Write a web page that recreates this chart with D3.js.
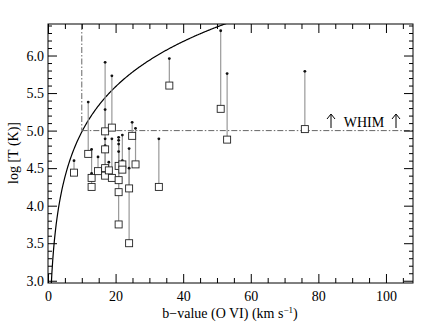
<!DOCTYPE html>
<html>
<head>
<meta charset="utf-8">
<script src="https://cdn.jsdelivr.net/npm/d3@7"></script>
<style>
  body { margin: 0; background: #fff; }
  svg text { font-family: "Liberation Serif", "Times New Roman", "DejaVu Serif", serif; }
</style>
</head>
<body>
<svg id="chart" width="436" height="331"></svg>
<script>
// b-value (km/s), measured log T (square) and upper log T (dot)
const bValues  = [7.7, 11.9, 12.9, 12.9, 14.8, 16.9, 16.9, 16.9, 16.9, 18.0, 18.9, 18.9, 20.9, 20.9, 20.9, 20.9, 22.0, 22.0, 24.9, 24.0, 24.0, 25.9, 32.8, 35.9, 51.1, 53.0, 76.0];
const logTLow  = [4.44, 4.69, 4.25, 4.37, 4.46, 4.99, 4.75, 4.50, 4.40, 4.47, 5.04, 4.37, 4.53, 4.34, 4.18, 3.75, 4.55, 4.48, 4.93, 4.23, 3.50, 4.55, 4.25, 5.60, 5.29, 4.88, 5.02];
const logTHigh = [4.60, 5.38, 4.75, 4.43, 4.65, 5.91, 5.28, 4.80, 4.89, 4.58, 5.73, 4.89, 4.91, 4.87, 4.82, 4.72, 4.94, 4.60, 5.11, 4.50, 4.76, 5.03, 4.89, 5.96, 6.33, 5.76, 5.79];

const xMajor = [0, 20, 40, 60, 80, 100];
const yMajor = [3.0, 3.5, 4.0, 4.5, 5.0, 5.5, 6.0];

const whimB = 10;      // b where thermal curve hits log T = 5
const whimLogT = 5.0;

const margin = { left: 48, top: 24, right: 23, bottom: 48 };
const width = 436, height = 331;
const serif = '"Liberation Serif", "Times New Roman", serif';
const fs = 14;

const svg = d3.select('#chart');

const x = d3.scaleLinear().domain([0, 108]).range([margin.left, width - margin.right]);
const y = d3.scaleLinear().domain([2.97, 6.42]).range([height - margin.bottom, margin.top]);

const xMinor = d3.range(0, 108, 5).filter(v => v % 20 !== 0);
const yMinor = d3.range(30, 65, 1).map(v => v / 10).filter(v => Math.round(v * 10) % 5 !== 0);

const plot = svg.append('g');

// clip to frame
svg.append('defs').append('clipPath').attr('id', 'clip')
  .append('rect')
  .attr('x', x.range()[0]).attr('y', y.range()[1])
  .attr('width', x.range()[1] - x.range()[0])
  .attr('height', y.range()[0] - y.range()[1]);

// thermal broadening curve for O VI: log T = log(16 m_H b^2 / 2k)
const curveB = d3.range(0.9, 60, 0.25);
const curve = d3.line()
  .x(d => x(d))
  .y(d => y(Math.log10(961.5) + 2 * Math.log10(d)));

plot.append('path')
  .attr('clip-path', 'url(#clip)')
  .datum(curveB)
  .attr('d', curve)
  .attr('fill', 'none')
  .attr('stroke', '#000')
  .attr('stroke-width', 1.2);

// WHIM limits
plot.append('line')
  .attr('x1', x(whimB)).attr('x2', x(whimB))
  .attr('y1', y.range()[1]).attr('y2', y(whimLogT))
  .attr('stroke', '#666').attr('stroke-width', 1)
  .attr('stroke-dasharray', '6,2,1.5,2');
plot.append('line')
  .attr('x1', x(whimB)).attr('x2', x.range()[1])
  .attr('y1', y(whimLogT)).attr('y2', y(whimLogT))
  .attr('stroke', '#666').attr('stroke-width', 1)
  .attr('stroke-dasharray', '6,2,1.5,2');

const pts = bValues.map((b, i) => ({ b: b, lo: logTLow[i], hi: logTHigh[i] }));

plot.append('g').selectAll('line')
  .data(pts)
  .join('line')
  .attr('x1', d => x(d.b)).attr('x2', d => x(d.b))
  .attr('y1', d => y(d.lo)).attr('y2', d => y(d.hi))
  .attr('stroke', '#999').attr('stroke-width', 1.2);

plot.append('g').selectAll('circle')
  .data(pts)
  .join('circle')
  .attr('cx', d => x(d.b))
  .attr('cy', d => y(d.hi))
  .attr('r', 1.4)
  .attr('fill', '#111');

plot.append('g').selectAll('rect')
  .data(pts)
  .join('rect')
  .attr('x', d => x(d.b) - 3.5)
  .attr('y', d => y(d.lo) - 3.5)
  .attr('width', 7).attr('height', 7)
  .attr('fill', '#fff')
  .attr('stroke', '#222').attr('stroke-width', 0.9);

// WHIM label
svg.append('text')
  .attr('x', 364).attr('y', 127)
  .attr('text-anchor', 'middle')
  .attr('font-family', serif)
  .attr('font-size', fs)
  .text('WHIM');
[331, 396].forEach(ax => {
  svg.append('line').attr('x1', ax).attr('x2', ax).attr('y1', 128).attr('y2', 115)
    .attr('stroke', '#000').attr('stroke-width', 1);
  svg.append('path').attr('d', `M${ax - 4},${119} L${ax},${114} L${ax + 4},${119}`)
    .attr('fill', 'none').attr('stroke', '#000').attr('stroke-width', 1);
});

// axes
function styleAxis(g) {
  g.attr('font-family', serif);
  g.select('.domain').remove();
  g.selectAll('line').attr('stroke', '#000');
  g.selectAll('text').attr('font-family', serif).attr('font-size', fs).attr('fill', '#000');
}

const yBottom = y.range()[0], yTop = y.range()[1], xLeft = x.range()[0], xRight = x.range()[1];

svg.append('g').attr('transform', `translate(0,${yBottom})`)
  .call(d3.axisBottom(x).tickValues(xMajor).tickSize(-9).tickPadding(8).tickFormat(d3.format('d')))
  .call(styleAxis);
svg.append('g').attr('transform', `translate(0,${yBottom})`)
  .call(d3.axisBottom(x).tickValues(xMinor).tickSize(-5).tickFormat(''))
  .call(styleAxis);
svg.append('g').attr('transform', `translate(0,${yTop})`)
  .call(d3.axisTop(x).tickValues(xMajor).tickSize(-9).tickFormat(''))
  .call(styleAxis);
svg.append('g').attr('transform', `translate(0,${yTop})`)
  .call(d3.axisTop(x).tickValues(xMinor).tickSize(-5).tickFormat(''))
  .call(styleAxis);

svg.append('g').attr('transform', `translate(${xLeft},0)`)
  .call(d3.axisLeft(y).tickValues(yMajor).tickSize(-9).tickPadding(4).tickFormat(d3.format('.1f')))
  .call(styleAxis);
svg.append('g').attr('transform', `translate(${xLeft},0)`)
  .call(d3.axisLeft(y).tickValues(yMinor).tickSize(-4).tickFormat(''))
  .call(styleAxis);
svg.append('g').attr('transform', `translate(${xRight},0)`)
  .call(d3.axisRight(y).tickValues(yMajor).tickSize(-9).tickFormat(''))
  .call(styleAxis);
svg.append('g').attr('transform', `translate(${xRight},0)`)
  .call(d3.axisRight(y).tickValues(yMinor).tickSize(-4).tickFormat(''))
  .call(styleAxis);

svg.append('rect')
  .attr('x', xLeft).attr('y', yTop)
  .attr('width', xRight - xLeft).attr('height', yBottom - yTop)
  .attr('fill', 'none').attr('stroke', '#000').attr('stroke-width', 1);

// axis titles
const xt = svg.append('text')
  .attr('x', 230).attr('y', 318)
  .attr('text-anchor', 'middle')
  .attr('font-family', serif)
  .attr('font-size', fs);
xt.append('tspan').text('b\u2212value (O VI) (km s');
xt.append('tspan').attr('dy', -5).attr('font-size', 9).text('\u22121');
xt.append('tspan').attr('dy', 5).text(')');

svg.append('text')
  .attr('transform', 'translate(18,153) rotate(-90)')
  .attr('text-anchor', 'middle')
  .attr('font-family', serif)
  .attr('font-size', fs)
  .text('log [T (K)]');
</script>
</body>
</html>
